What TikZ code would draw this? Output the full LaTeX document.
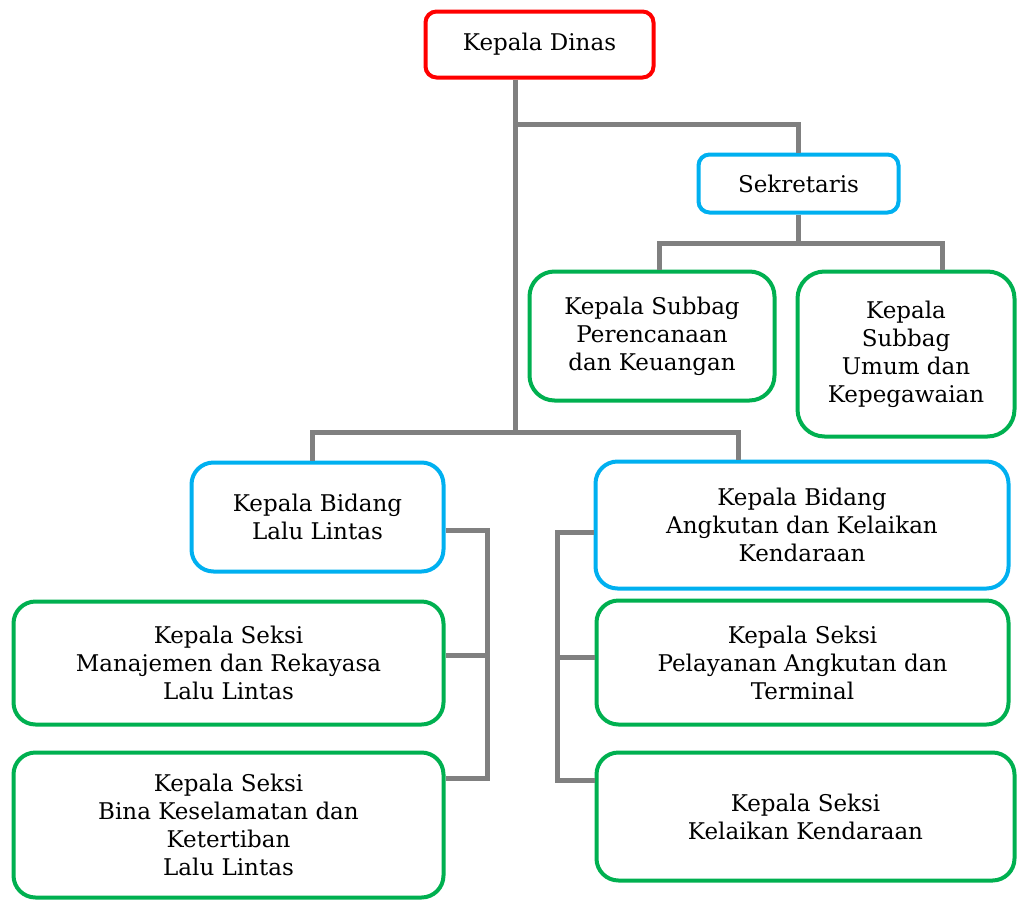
\documentclass[tikz,border=0pt]{standalone}
\usepackage{fontspec}
\setmainfont{DejaVu Serif}
\usepackage{tikz}
\usetikzlibrary{positioning,calc}

\definecolor{kred}{HTML}{FF0000}
\definecolor{kblue}{HTML}{00B0F0}
\definecolor{kgreen}{HTML}{00B050}
\definecolor{kgray}{HTML}{808080}

\begin{document}
\begin{tikzpicture}[x=1pt, y=-1pt,
    unit/.style={draw, line width=4pt, rounded corners=22pt, align=center, fill=white,
        font=\fontsize{23}{28}\selectfont, inner sep=0pt},
    head/.style={unit, draw=kred, rounded corners=11pt},
    bidang/.style={unit, draw=kblue},
    seksi/.style={unit, draw=kgreen},
    link/.style={draw=kgray, line width=5pt}]

    \useasboundingbox (0,0) rectangle (1017,900);

    % Connections
    \coordinate (hub) at (515,432);
    \coordinate (sekhub) at (515,124);
    \coordinate (llbus) at (487,655);
    \coordinate (akbus) at (557,657);

    % Units
    \node[head, minimum width=228pt, minimum height=66pt] (dinas) at (539.5,44.5) {Kepala Dinas};
    \node[bidang, rounded corners=11pt, minimum width=200pt, minimum height=58pt] (sekre) at (798.5,183.5) {Sekretaris};
    \node[seksi, rounded corners=25pt, minimum width=245pt, minimum height=129pt] (subren) at (652,336) {Kepala Subbag\\Perencanaan\\dan Keuangan};
    \node[seksi, rounded corners=27pt, minimum width=217pt, minimum height=165pt] (subumum) at (906,354) {Kepala\\Subbag\\Umum dan\\Kepegawaian};
    \node[bidang, minimum width=252pt, minimum height=109pt] (bidll) at (317.5,517) {Kepala Bidang\\Lalu Lintas};
    \node[bidang, minimum width=413pt, minimum height=127pt] (bidak) at (802,525) {Kepala Bidang\\Angkutan dan Kelaikan\\Kendaraan};
    \node[seksi, minimum width=430pt, minimum height=123pt] (sman) at (228.5,663) {Kepala Seksi\\Manajemen dan Rekayasa\\Lalu Lintas};
    \node[seksi, minimum width=430pt, minimum height=145pt] (sbina) at (228.5,825) {Kepala Seksi\\Bina Keselamatan dan\\Ketertiban\\Lalu Lintas};
    \node[seksi, minimum width=412pt, minimum height=124pt] (spel) at (802.5,662.5) {Kepala Seksi\\Pelayanan Angkutan dan\\Terminal};
    \node[seksi, minimum width=418pt, minimum height=128pt] (sklk) at (805.5,816.5) {Kepala Seksi\\Kelaikan Kendaraan};

    % Lines between units
    \draw[link] (dinas.south -| hub) -- (hub);
    \draw[link] (sekhub) -| (sekre.north);
    \draw[link] (sekre.south) -- ++(0,29) coordinate (subhub);
    \draw[link] ([xshift=7pt]subren.north) |- (subhub) -| ([xshift=36pt]subumum.north);
    \draw[link] ([xshift=-5pt]bidll.north) |- (hub) -| ([xshift=-64pt]bidak.north);
    % Lalu Lintas branch
    \draw[link] ([yshift=-13pt]bidll.east) -| (llbus) |- ([yshift=-28pt]sbina.north east);
    \draw[link] (llbus) -- (llbus -| sman.east);
    % Angkutan branch
    \draw[link] ([yshift=-7pt]bidak.west) -| (akbus) |- ([yshift=-30pt]sklk.north west);
    \draw[link] (akbus) -- (akbus -| spel.west);

\end{tikzpicture}
\end{document}
